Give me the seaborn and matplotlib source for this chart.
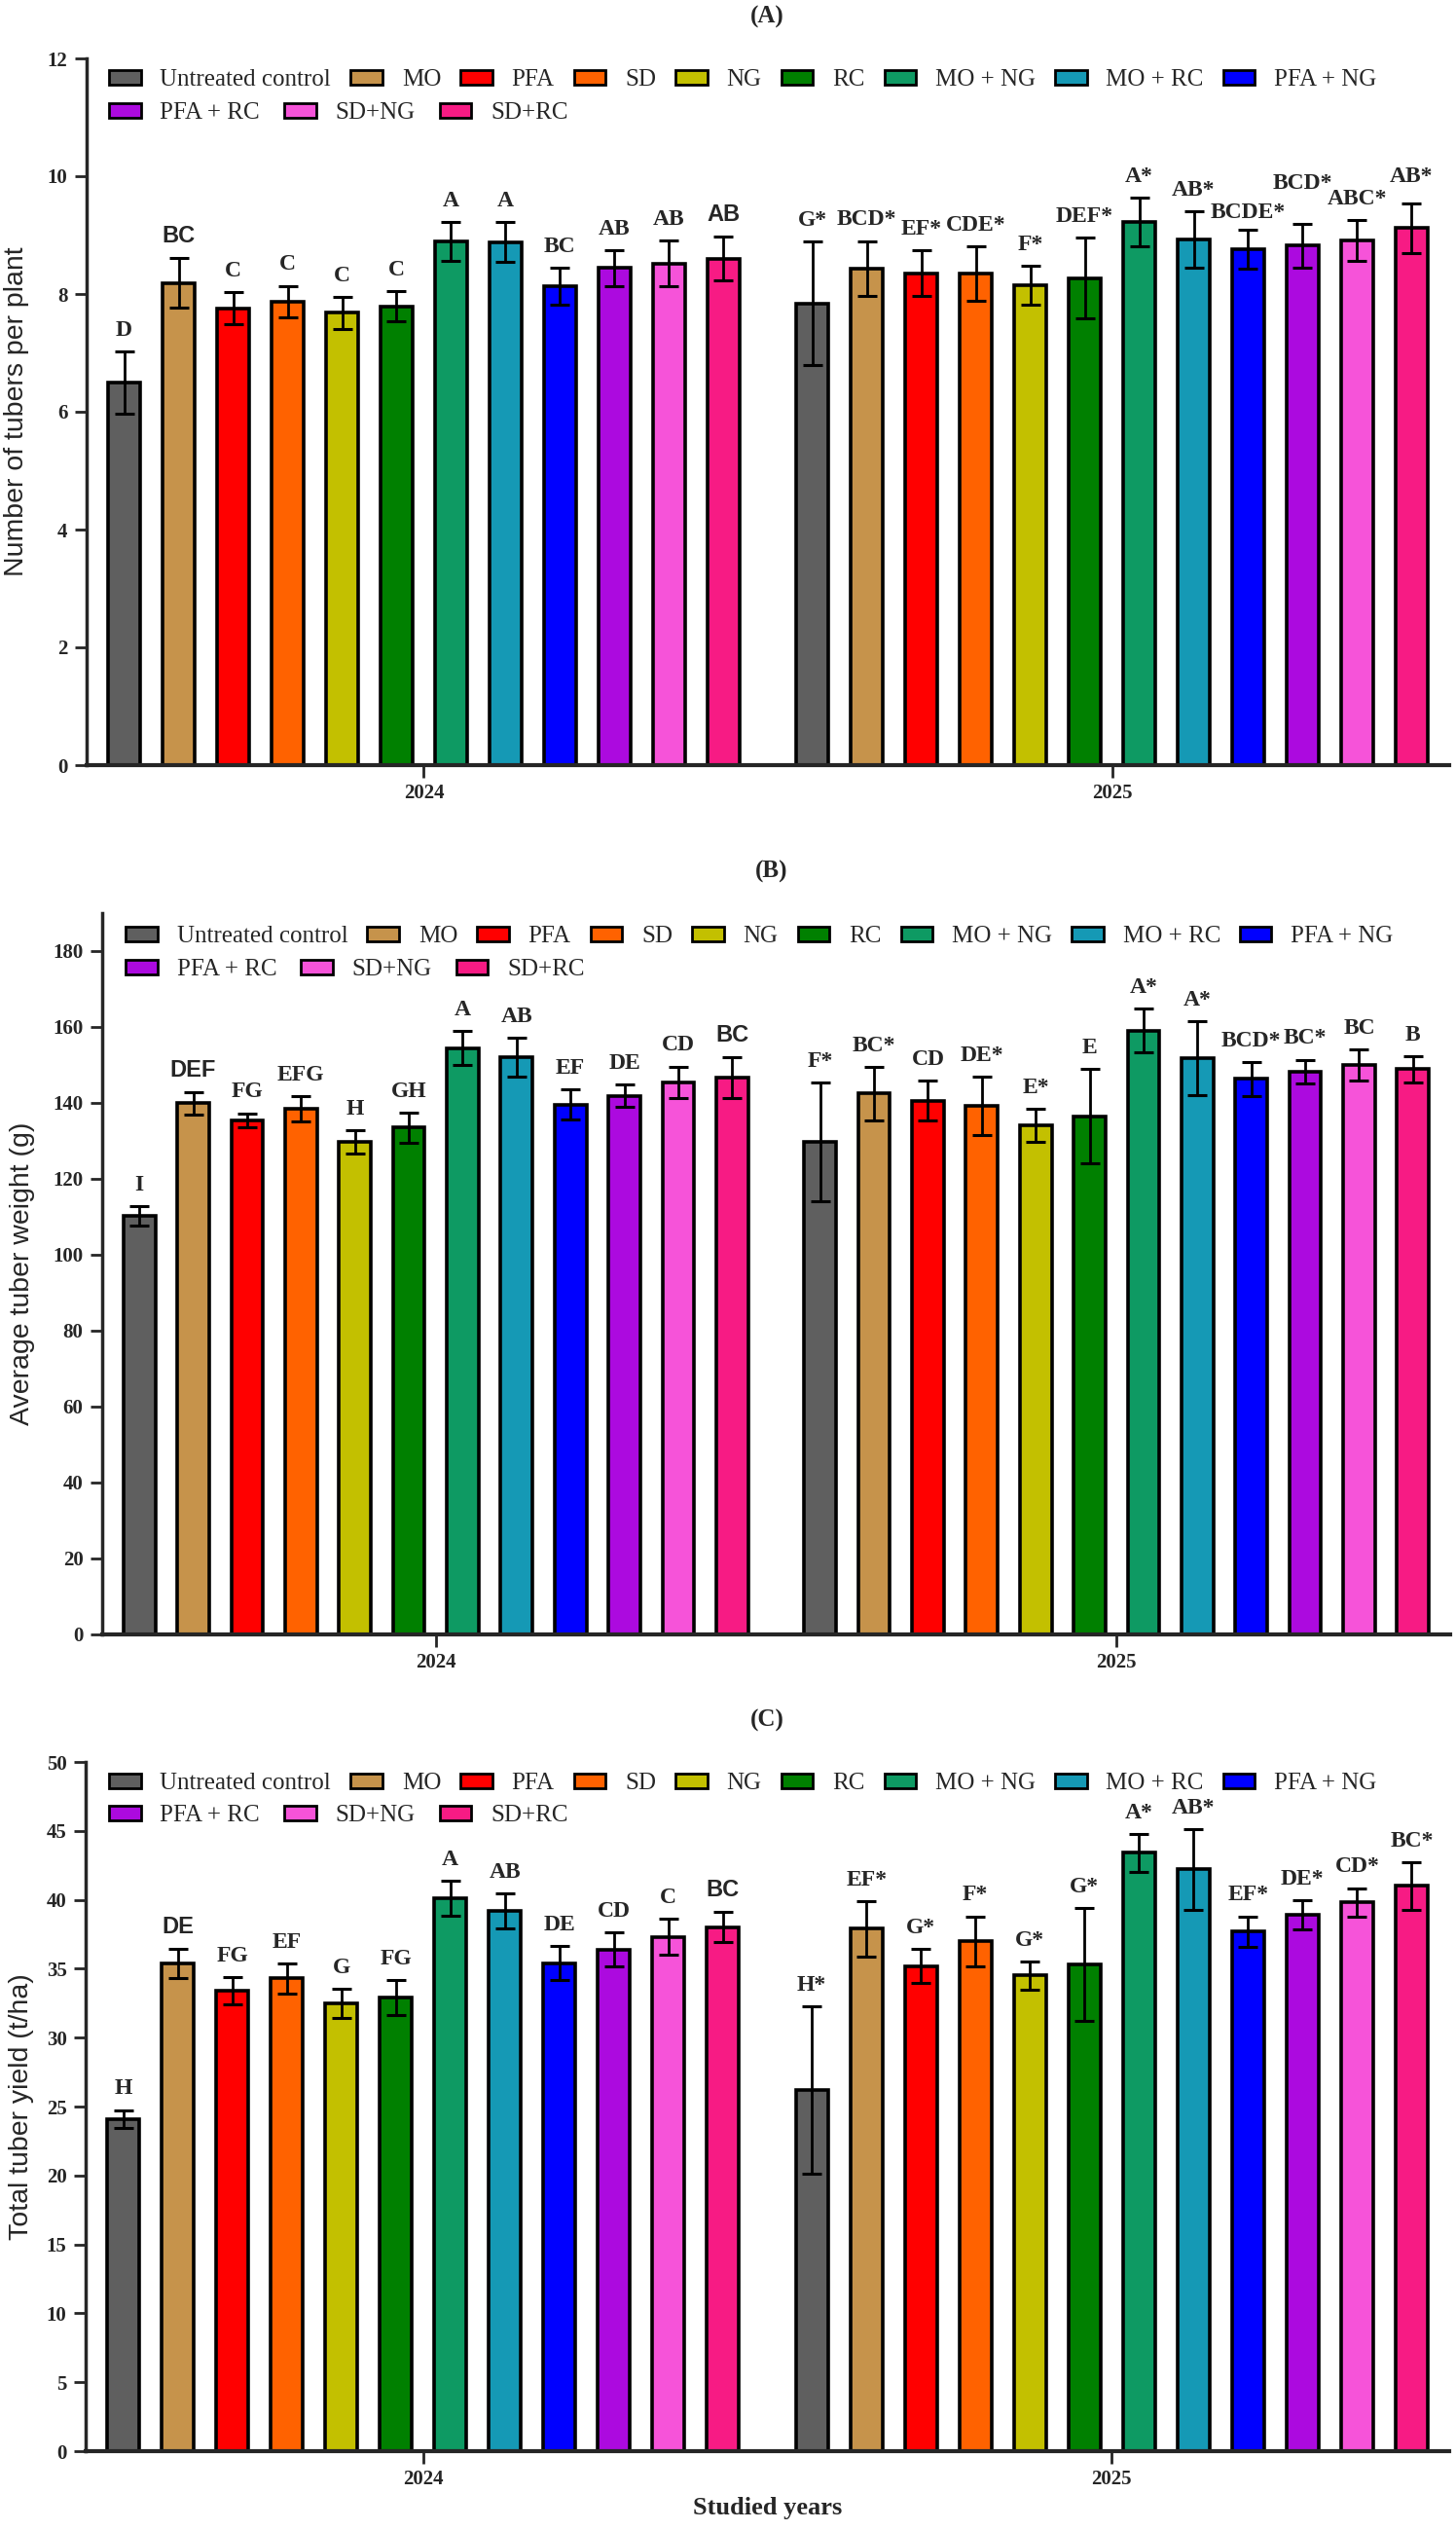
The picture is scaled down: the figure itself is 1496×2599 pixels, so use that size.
import numpy as np
import pandas as pd
import seaborn as sns
import matplotlib.pyplot as plt
from matplotlib.patches import Patch

years = ["2024", "2025"]
treatments = ["Untreated control", "MO", "PFA", "SD", "NG", "RC",
              "MO + NG", "MO + RC", "PFA + NG", "PFA + RC", "SD+NG", "SD+RC"]
colors = ["#5f5f5f", "#c6934b", "#ff0000", "#ff6200", "#c3c000", "#008000",
          "#0e9a63", "#1599b5", "#0000ff", "#ac0adf", "#f653d9", "#f71b84"]

# (A) number of tubers per plant
tubers_2024 = [6.50, 8.19, 7.76, 7.87, 7.68, 7.79, 8.89, 8.88, 8.13, 8.44, 8.52, 8.60]
tubers_2025 = [7.84, 8.43, 8.35, 8.35, 8.15, 8.27, 9.22, 8.92, 8.76, 8.82, 8.91, 9.12]
tubers_err_2024 = [0.53, 0.42, 0.27, 0.27, 0.27, 0.26, 0.33, 0.34, 0.31, 0.31, 0.39, 0.37]
tubers_err_2025 = [1.05, 0.47, 0.39, 0.46, 0.33, 0.69, 0.41, 0.48, 0.33, 0.37, 0.34, 0.42]
tubers_let_2024 = ["D", "BC", "C", "C", "C", "C", "A", "A", "BC", "AB", "AB", "AB"]
tubers_let_2025 = ["G*", "BCD*", "EF*", "CDE*", "F*", "DEF*", "A*", "AB*",
                   "BCDE*", "BCD*", "ABC*", "AB*"]

# (B) average tuber weight (g)
weight_2024 = [110.3, 139.9, 135.5, 138.4, 129.7, 133.5, 154.4, 152.0, 139.6, 141.9, 145.4, 146.7]
weight_2025 = [129.8, 142.5, 140.6, 139.2, 134.1, 136.5, 159.1, 151.8, 146.3, 148.3, 149.9, 148.9]
weight_err_2024 = [2.6, 2.9, 1.8, 3.3, 3.0, 4.0, 4.5, 5.2, 3.9, 3.0, 4.2, 5.3]
weight_err_2025 = [15.6, 7.0, 5.2, 7.6, 4.4, 12.4, 5.7, 9.8, 4.4, 3.1, 4.1, 3.5]
weight_let_2024 = ["I", "DEF", "FG", "EFG", "H", "GH", "A", "AB", "EF", "DE", "CD", "BC"]
weight_let_2025 = ["F*", "BC*", "CD", "DE*", "E*", "E", "A*", "A*", "BCD*", "BC*", "BC", "B"]

# (C) total tuber yield (t/ha)
yield_2024 = [24.1, 35.4, 33.4, 34.3, 32.5, 32.9, 40.1, 39.2, 35.4, 36.4, 37.3, 38.0]
yield_2025 = [26.2, 37.9, 35.2, 37.0, 34.5, 35.3, 43.4, 42.2, 37.7, 38.9, 39.8, 41.0]
yield_err_2024 = [0.65, 1.05, 1.0, 1.1, 1.05, 1.25, 1.25, 1.25, 1.25, 1.25, 1.3, 1.1]
yield_err_2025 = [6.1, 2.0, 1.25, 1.8, 1.05, 4.1, 1.35, 2.9, 1.1, 1.05, 1.05, 1.75]
yield_let_2024 = ["H", "DE", "FG", "EF", "G", "FG", "A", "AB", "DE", "CD", "C", "BC"]
yield_let_2025 = ["H*", "EF*", "G*", "F*", "G*", "G*", "A*", "AB*", "EF*", "DE*", "CD*", "BC*"]

# labels that the original typeset in a sans face
sans_cells = [("MO", "2024"), ("SD+RC", "2024")]
# hand-placed labels in the original (extra offset in points)
nudges = {("A", "PFA + NG", "2025"): -3, ("A", "PFA + RC", "2025"): 14,
          ("A", "SD+RC", "2025"): 4}

W, H = 1496, 2599
sns.set_style("ticks")
plt.rcParams["font.family"] = ["Liberation Serif", "DejaVu Serif"]
plt.rcParams["axes.linewidth"] = 2.5

fig = plt.figure(figsize=(W / 100, H / 100), dpi=100)


def px_box(left, top, right, bottom):
    return [left / W, 1 - bottom / H, (right - left) / W, (bottom - top) / H]


def legend_rows(ax, x0, y1, y2):
    hs = [Patch(facecolor=c, edgecolor="black", linewidth=2) for c in colors]
    common = dict(loc="center left", bbox_transform=fig.transFigure, frameon=False,
                  borderpad=0, borderaxespad=0, handlelength=1.3, handleheight=0.55,
                  handletextpad=0.8, prop={"family": "Liberation Serif", "size": 18})
    leg1 = ax.legend(hs[:9], treatments[:9], ncol=9, columnspacing=0.8,
                     bbox_to_anchor=(x0 / W, 1 - y1 / H), **common)
    ax.add_artist(leg1)
    ax.legend(hs[9:], treatments[9:], ncol=3, columnspacing=1.0,
              bbox_to_anchor=(x0 / W, 1 - y2 / H), **common)


def draw_panel(ax, tag, v24, v25, e24, e25, l24, l25, ylabel, ymax, ystep, top_lim):
    df = pd.DataFrame({"year": np.repeat(years, len(treatments)),
                       "treatment": treatments * 2,
                       "value": v24 + v25})
    sns.barplot(data=df, x="year", y="value", hue="treatment", order=years,
                hue_order=treatments, palette=colors, saturation=1, width=0.95,
                gap=0.41, errorbar=None, edgecolor="black", linewidth=2.6,
                legend=False, ax=ax)
    bars = sorted(ax.patches, key=lambda p: p.get_x())
    xs = [b.get_x() + b.get_width() / 2 for b in bars]
    hs = [b.get_height() for b in bars]
    errs = e24 + e25
    ax.errorbar(xs, hs, yerr=errs, fmt="none", ecolor="black", elinewidth=2,
                capsize=7, capthick=2.2, zorder=3)
    labels = l24 + l25
    cells = [(t, y) for y in years for t in treatments]
    for x, h, e, lab, cell in zip(xs, hs, errs, labels, cells):
        fam = "Liberation Sans" if cell in sans_cells else "Liberation Serif"
        dy = 8 + nudges.get((tag,) + cell, 0)
        ax.annotate(lab, (x, h + e), xytext=(0, dy), textcoords="offset points",
                    ha="center", va="bottom", fontsize=17, fontweight="bold",
                    family=fam)
    ax.set_xlim(-0.49, 1.49)
    ax.set_ylim(0, top_lim)
    ax.set_yticks(np.arange(0, ymax + ystep / 2, ystep))
    ax.set_xlabel("")
    ax.set_ylabel(ylabel, fontsize=20.5, family="Liberation Sans")
    sns.despine(ax=ax)
    ax.spines["bottom"].set_linewidth(3)
    ax.tick_params(axis="both", length=9, width=2, pad=5)
    ax.tick_params(axis="y", labelsize=15)
    ax.tick_params(axis="x", labelsize=15)
    for t in ax.get_xticklabels() + ax.get_yticklabels():
        t.set_fontweight("bold")


# panel (A)
ax_a = fig.add_axes(px_box(89, 60, 1489, 786))
draw_panel(ax_a, "A", tubers_2024, tubers_2025, tubers_err_2024, tubers_err_2025,
           tubers_let_2024, tubers_let_2025, "Number of tubers per plant", 12, 2, 12)
ax_a.yaxis.set_label_coords(-0.042, 0.5)
legend_rows(ax_a, 112, 82, 116)
fig.text(788 / W, 1 - 17 / H, "(A)", ha="center", va="center", fontsize=18, fontweight="bold")

# panel (B)
ax_b = fig.add_axes(px_box(105, 938, 1490, 1679))
draw_panel(ax_b, "B", weight_2024, weight_2025, weight_err_2024, weight_err_2025,
           weight_let_2024, weight_let_2025, "Average tuber weight (g)", 180, 20, 190)
ax_b.yaxis.set_label_coords(-0.050, 0.5)
legend_rows(ax_b, 129, 962, 996)
fig.text(793 / W, 1 - 895 / H, "(B)", ha="center", va="center", fontsize=18, fontweight="bold")

# panel (C)
ax_c = fig.add_axes(px_box(88, 1810, 1489, 2518))
draw_panel(ax_c, "C", yield_2024, yield_2025, yield_err_2024, yield_err_2025,
           yield_let_2024, yield_let_2025, "Total tuber yield (t/ha)", 50, 5, 50)
ax_c.yaxis.set_label_coords(-0.038, 0.5)
legend_rows(ax_c, 112, 1832, 1865)
fig.text(788 / W, 1 - 1767 / H, "(C)", ha="center", va="center", fontsize=18, fontweight="bold")
ax_c.set_xlabel("Studied years", fontsize=19, fontweight="bold")
ax_c.xaxis.set_label_coords(0.5, -0.066)

fig.savefig("out.png", dpi=100)
